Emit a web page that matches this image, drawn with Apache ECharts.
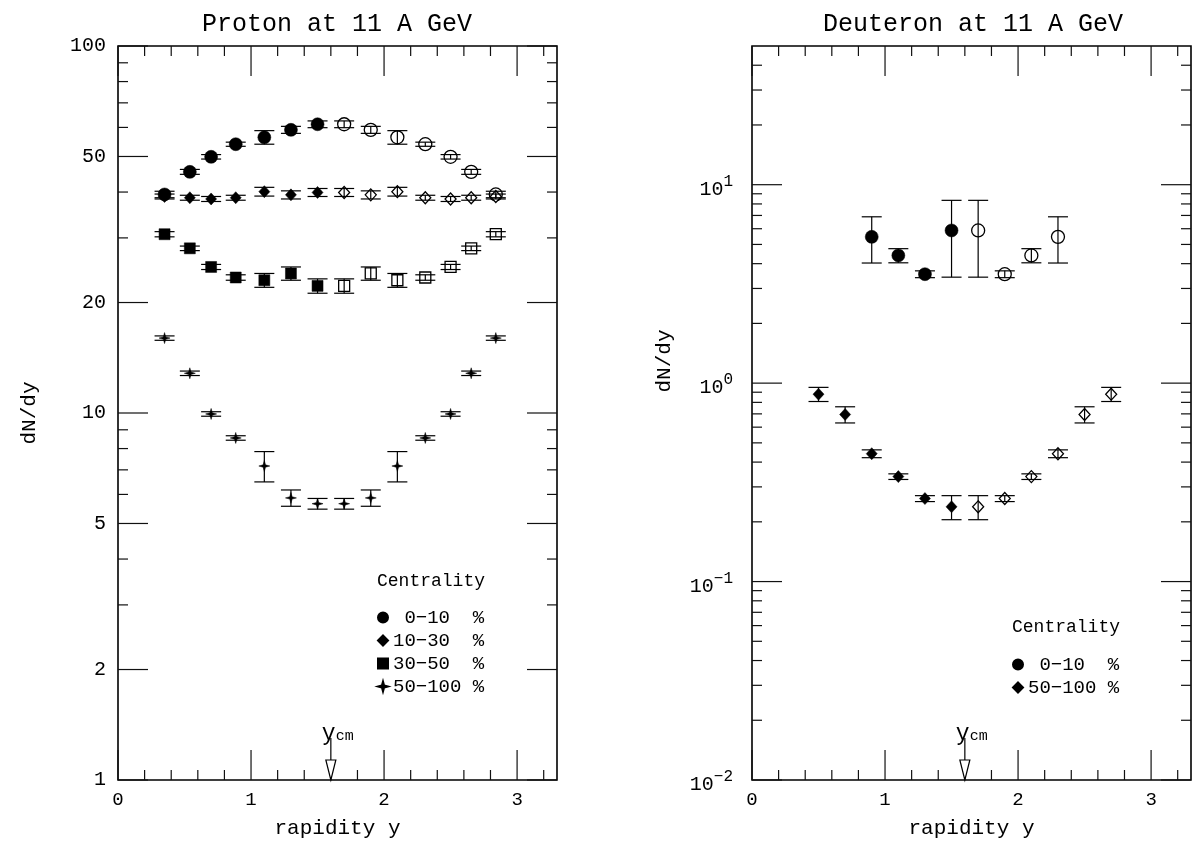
<!DOCTYPE html>
<html><head><meta charset="utf-8">
<script src="https://cdn.jsdelivr.net/npm/echarts@6/dist/echarts.min.js"></script>
<style>html,body{margin:0;padding:0;background:#fff}#c{width:1194px;height:847px}</style>
</head><body><div id="c"></div>
<script>
// ================= DATA =================
// Proton (left panel): rapidity bins; filled = measured, open = reflected about y_cm
const protonX      = [0.35, 0.54, 0.70, 0.885, 1.10, 1.30, 1.50, 1.70, 1.90, 2.10, 2.31, 2.50, 2.655, 2.84];
const protonOpen   = [0, 0, 0, 0, 0, 0, 0, 1, 1, 1, 1, 1, 1, 1];
const proton0010   = [39.4, 45.4, 49.9, 54.0, 56.4, 59.1, 61.2, 61.2, 59.1, 56.4, 54.0, 49.9, 45.4, 39.4];
const proton0010E  = [0.8, 0.7, 0.7, 0.7, 2.4, 1.3, 1.3, 1.3, 1.3, 2.4, 0.7, 0.7, 0.7, 0.8];
const proton1030   = [38.9, 38.6, 38.3, 38.6, 40.1, 39.3, 39.9, 39.9, 39.3, 40.1, 38.6, 38.3, 38.6, 38.9];
const proton1030E  = [0.6, 0.6, 0.6, 0.6, 1.1, 1.0, 1.0, 1.0, 1.0, 1.1, 0.6, 0.6, 0.6, 0.6];
const proton3050   = [30.7, 28.1, 25.0, 23.4, 23.0, 24.0, 22.2, 22.2, 24.0, 23.0, 23.4, 25.0, 28.1, 30.7];
const proton3050E  = [0.5, 0.4, 0.4, 0.4, 1.0, 1.0, 1.0, 1.0, 1.0, 1.0, 0.4, 0.4, 0.4, 0.5];
const proton50100  = [16.0, 12.83, 9.94, 8.55, 7.17, 5.87, 5.66, 5.66, 5.87, 7.17, 8.55, 9.94, 12.83, 16.0];
const proton50100E = [0.22, 0.18, 0.14, 0.12, 0.68, 0.30, 0.19, 0.19, 0.30, 0.68, 0.12, 0.14, 0.18, 0.22];

// Deuteron (right panel)
const deutX0010    = [0.9, 1.1, 1.3, 1.5, 1.7, 1.9, 2.1, 2.3];
const deutOpen0010 = [0, 0, 0, 0, 1, 1, 1, 1];
const deut0010     = [5.46, 4.40, 3.54, 5.88, 5.88, 3.54, 4.40, 5.46];
const deut0010E    = [1.43, 0.36, 0.14, 2.46, 2.46, 0.14, 0.36, 1.43];
const deutX50100   = [0.5, 0.7, 0.9, 1.1, 1.3, 1.5, 1.7, 1.9, 2.1, 2.3, 2.5, 2.7];
const deutOpen50100= [0, 0, 0, 0, 0, 0, 1, 1, 1, 1, 1, 1];
const deut50100    = [0.88, 0.695, 0.441, 0.338, 0.262, 0.238, 0.238, 0.262, 0.338, 0.441, 0.695, 0.88];
const deut50100E   = [0.072, 0.065, 0.020, 0.011, 0.009, 0.033, 0.033, 0.009, 0.011, 0.020, 0.065, 0.072];

const yCM = 1.6;

// Axis ticks and labels
const xMajorTicks = [0, 1, 2, 3];
const xMinorTicks = [0.2, 0.4, 0.6, 0.8, 1.2, 1.4, 1.6, 1.8, 2.2, 2.4, 2.6, 2.8, 3.2];
const protonYMajorTicks = [1, 2, 5, 10, 20, 50, 100];
const protonYTickLabels = ['1', '2', '5', '10', '20', '50', '100'];
const protonYMinorTicks = [3, 4, 6, 7, 8, 9, 30, 40, 60, 70, 80, 90];
const deutYMajorTicks = [0.01, 0.1, 1, 10];
const deutYTickLabels = ['10{s|−2}', '10{s|−1}', '10{s|0}', '10{s|1}'];
const deutYMinorTicks = [0.02,0.03,0.04,0.05,0.06,0.07,0.08,0.09,0.2,0.3,0.4,0.5,0.6,0.7,0.8,0.9,2,3,4,5,6,7,8,9,20,30,40];

const legendLeftNames  = [' 0−10  %', '10−30  %', '30−50  %', '50−100 %'];
const legendRightNames = [' 0−10  %', '50−100 %'];

// ================= CHART =================
const FONT = '"Liberation Mono", "DejaVu Sans Mono", monospace';
const STAR = 'path://M0,-6L1.3,-1.3L6,0L1.3,1.3L0,6L-1.3,1.3L-6,0L-1.3,-1.3Z';
const chart = echarts.init(document.getElementById('c'), null, {renderer: 'canvas'});

function pts(xs, ys, open, wantOpen) {
  const out = [];
  xs.forEach((x, i) => { if (!!open[i] === wantOpen) out.push([x, ys[i]]); });
  return out;
}
function errData(xs, ys, es) { return xs.map((x, i) => [x, ys[i], es[i]]); }

function scatter(name, gi, data, symbol, size, open) {
  return {
    type: 'scatter', name, xAxisIndex: gi, yAxisIndex: gi, data, symbol, symbolSize: size, z: 3,
    itemStyle: open ? {color: '#fff', borderColor: '#000', borderWidth: 1.3, opacity: 1}
                    : {color: '#000', borderColor: '#000', borderWidth: 0.5, opacity: 1},
    emphasis: {disabled: true}, silent: true
  };
}
function errSeries(name, gi, data) {
  return {
    type: 'custom', name, xAxisIndex: gi, yAxisIndex: gi, data, z: 4, silent: true, clip: false,
    encode: {x: 0, y: 1},
    renderItem(params, api) {
      const x = api.value(0), y = api.value(1), e = api.value(2);
      const t = api.coord([x, y + e]), b = api.coord([x, y - e]);
      const hw = 10, st = {stroke: '#000', lineWidth: 1.2};
      return {type: 'group', children: [
        {type: 'line', shape: {x1: t[0], y1: t[1], x2: b[0], y2: b[1]}, style: st},
        {type: 'line', shape: {x1: t[0] - hw, y1: t[1], x2: t[0] + hw, y2: t[1]}, style: st},
        {type: 'line', shape: {x1: b[0] - hw, y1: b[1], x2: b[0] + hw, y2: b[1]}, style: st}
      ]};
    }
  };
}
// ticks on all four sides + y tick labels, positioned through the axes' own scales
function frameSeries(gi, yBase, yMaj, yMin, yLabels, labelGap, labelFont, rich, labelDy) {
  const data = [];
  xMajorTicks.forEach(v => data.push([v, yBase, 0, 0]));
  xMinorTicks.forEach(v => data.push([v, yBase, 1, 0]));
  yMaj.forEach((v, i) => data.push([0, v, 2, i]));
  yMin.forEach(v => data.push([0, v, 3, 0]));
  return {
    type: 'custom', name: 'frame' + gi, xAxisIndex: gi, yAxisIndex: gi, data, z: 6, silent: true, clip: false,
    encode: {x: 0, y: 1},
    renderItem(params, api) {
      const cs = params.coordSys;
      const kind = api.value(2);
      const p = api.coord([api.value(0), api.value(1)]);
      const st = {stroke: '#111', lineWidth: 1.2};
      const ch = [];
      if (kind < 2) {
        const len = kind === 0 ? 30 : 10;
        const bot = cs.y + cs.height, top = cs.y;
        ch.push({type: 'line', shape: {x1: p[0], y1: bot, x2: p[0], y2: bot - len}, style: st});
        ch.push({type: 'line', shape: {x1: p[0], y1: top, x2: p[0], y2: top + len}, style: st});
      } else {
        const len = kind === 2 ? 30 : 10;
        const l = cs.x, r = cs.x + cs.width;
        ch.push({type: 'line', shape: {x1: l, y1: p[1], x2: l + len, y2: p[1]}, style: st});
        ch.push({type: 'line', shape: {x1: r, y1: p[1], x2: r - len, y2: p[1]}, style: st});
        if (kind === 2) {
          ch.push({type: 'text', style: {
            text: yLabels[api.value(3)], x: l - labelGap, y: p[1] + labelDy,
            fontFamily: FONT, fontSize: labelFont, fill: '#000',
            align: 'right', textAlign: 'right', verticalAlign: 'middle', textVerticalAlign: 'middle',
            rich: rich
          }});
        }
      }
      return {type: 'group', children: ch};
    }
  };
}
function ycmSeries(gi, yBase) {
  return {
    type: 'custom', name: 'ycm' + gi, xAxisIndex: gi, yAxisIndex: gi, data: [[yCM, yBase]], z: 7,
    silent: true, clip: false, encode: {x: 0, y: 1},
    renderItem(params, api) {
      const cs = params.coordSys;
      const x = api.coord([api.value(0), api.value(1)])[0];
      const bot = cs.y + cs.height;
      const st = {stroke: '#000', lineWidth: 1.2};
      return {type: 'group', children: [
        {type: 'line', shape: {x1: x, y1: bot - 42, x2: x, y2: bot - 20}, style: st},
        {type: 'polygon', shape: {points: [[x - 5, bot - 20], [x + 5, bot - 20], [x, bot]]},
          style: {fill: '#fff', stroke: '#000', lineWidth: 1.2}},
        {type: 'text', style: {
          text: '{a|y}{b|cm}', x: x - 9, y: bot - 35, fill: '#000',
          align: 'left', textAlign: 'left', verticalAlign: 'bottom', textVerticalAlign: 'bottom',
          rich: {a: {fontFamily: FONT, fontSize: 23, fill: '#000'},
                 b: {fontFamily: FONT, fontSize: 15, fill: '#000', padding: [6, 0, 0, 0]}}
        }}
      ]};
    }
  };
}

const gridBox = {show: true, borderColor: '#000', borderWidth: 1.6, backgroundColor: 'transparent'};
const xAxisBase = (gi) => ({
  type: 'value', gridIndex: gi, min: 0, max: 3.3, interval: 1,
  name: 'rapidity y', nameLocation: 'middle', nameGap: 38,
  nameTextStyle: {fontFamily: FONT, fontSize: 21, color: '#000'},
  axisLine: {show: false}, axisTick: {show: false}, splitLine: {show: false},
  axisLabel: {fontFamily: FONT, fontSize: 19, color: '#000', margin: 10,
    formatter: v => (Math.abs(v - Math.round(v)) < 1e-9 ? String(Math.round(v)) : '')}
});

const series = [
  // proton
  scatter(legendLeftNames[0], 0, pts(protonX, proton0010, protonOpen, false), 'circle', 13, false),
  scatter(legendLeftNames[1], 0, pts(protonX, proton1030, protonOpen, false), 'diamond', [11, 12], false),
  scatter(legendLeftNames[2], 0, pts(protonX, proton3050, protonOpen, false), 'rect', 11, false),
  scatter(legendLeftNames[3], 0, pts(protonX, proton50100, protonOpen, false), STAR, 11, false),
  scatter('p0010 refl', 0, pts(protonX, proton0010, protonOpen, true), 'circle', 13, true),
  scatter('p1030 refl', 0, pts(protonX, proton1030, protonOpen, true), 'diamond', [11, 12], true),
  scatter('p3050 refl', 0, pts(protonX, proton3050, protonOpen, true), 'rect', 11, true),
  scatter('p50100 refl', 0, pts(protonX, proton50100, protonOpen, true), STAR, 11, false),
  errSeries('p0010 err', 0, errData(protonX, proton0010, proton0010E)),
  errSeries('p1030 err', 0, errData(protonX, proton1030, proton1030E)),
  errSeries('p3050 err', 0, errData(protonX, proton3050, proton3050E)),
  errSeries('p50100 err', 0, errData(protonX, proton50100, proton50100E)),
  // deuteron
  scatter('d0010', 1, pts(deutX0010, deut0010, deutOpen0010, false), 'circle', 13, false),
  scatter('d50100', 1, pts(deutX50100, deut50100, deutOpen50100, false), 'diamond', [11, 12], false),
  scatter('d0010 refl', 1, pts(deutX0010, deut0010, deutOpen0010, true), 'circle', 13, true),
  scatter('d50100 refl', 1, pts(deutX50100, deut50100, deutOpen50100, true), 'diamond', [11, 12], true),
  errSeries('d0010 err', 1, errData(deutX0010, deut0010, deut0010E)),
  errSeries('d50100 err', 1, errData(deutX50100, deut50100, deut50100E)),
  // frames, ticks, labels, y_cm markers
  frameSeries(0, 1, protonYMajorTicks, protonYMinorTicks, protonYTickLabels, 12, 20, null, 0),
  frameSeries(1, 0.01, deutYMajorTicks, deutYMinorTicks, deutYTickLabels, 19, 20,
    {s: {fontFamily: FONT, fontSize: 16, fill: '#000', padding: [0, 0, 16, 0]}}, 5),
  ycmSeries(0, 1),
  ycmSeries(1, 0.01)
];

const legendCommon = {
  orient: 'vertical', itemWidth: 10, itemHeight: 10, itemGap: 4, selectedMode: false,
  padding: 0, textStyle: {fontFamily: FONT, fontSize: 19, color: '#000'}
};

chart.setOption({
  animation: false,
  backgroundColor: '#fff',
  title: [
    {text: 'Proton at 11 A GeV', left: 337, top: 12, textAlign: 'center', padding: 0,
     textStyle: {fontFamily: FONT, fontSize: 25, fontWeight: 'normal', color: '#000'}},
    {text: 'Deuteron at 11 A GeV', left: 973, top: 12, textAlign: 'center', padding: 0,
     textStyle: {fontFamily: FONT, fontSize: 25, fontWeight: 'normal', color: '#000'}},
    {text: 'Centrality', left: 377, top: 572, padding: 0,
     textStyle: {fontFamily: FONT, fontSize: 18, fontWeight: 'normal', color: '#000'}},
    {text: 'Centrality', left: 1012, top: 618, padding: 0,
     textStyle: {fontFamily: FONT, fontSize: 18, fontWeight: 'normal', color: '#000'}}
  ],
  legend: [
    Object.assign({}, legendCommon, {left: 377, top: 608,
      data: [{name: legendLeftNames[0], icon: 'circle'}, {name: legendLeftNames[1], icon: 'diamond'},
             {name: legendLeftNames[2], icon: 'rect'}, {name: legendLeftNames[3], icon: STAR}]}),
    Object.assign({}, legendCommon, {left: 1012, top: 655,
      data: [{name: legendRightNames[0], icon: 'circle'}, {name: legendRightNames[1], icon: 'diamond'}]})
  ],
  grid: [
    Object.assign({left: 118, top: 46, width: 439, height: 734}, gridBox),
    Object.assign({left: 752, top: 46, width: 439, height: 734}, gridBox)
  ],
  xAxis: [xAxisBase(0), xAxisBase(1)],
  yAxis: [
    {type: 'log', logBase: 10, gridIndex: 0, min: 1, max: 100,
     name: 'dN/dy', nameLocation: 'middle', nameGap: 78, nameRotate: 90,
     nameTextStyle: {fontFamily: FONT, fontSize: 21, color: '#000'},
     axisLine: {show: false}, axisTick: {show: false}, axisLabel: {show: false}, splitLine: {show: false}},
    {type: 'log', logBase: 10, gridIndex: 1, min: 0.01, max: 50,
     name: 'dN/dy', nameLocation: 'middle', nameGap: 77, nameRotate: 90,
     nameTextStyle: {fontFamily: FONT, fontSize: 21, color: '#000', padding: [0, 0, 0, 104]},
     axisLine: {show: false}, axisTick: {show: false}, axisLabel: {show: false}, splitLine: {show: false}}
  ],
  series
});
</script></body></html>
